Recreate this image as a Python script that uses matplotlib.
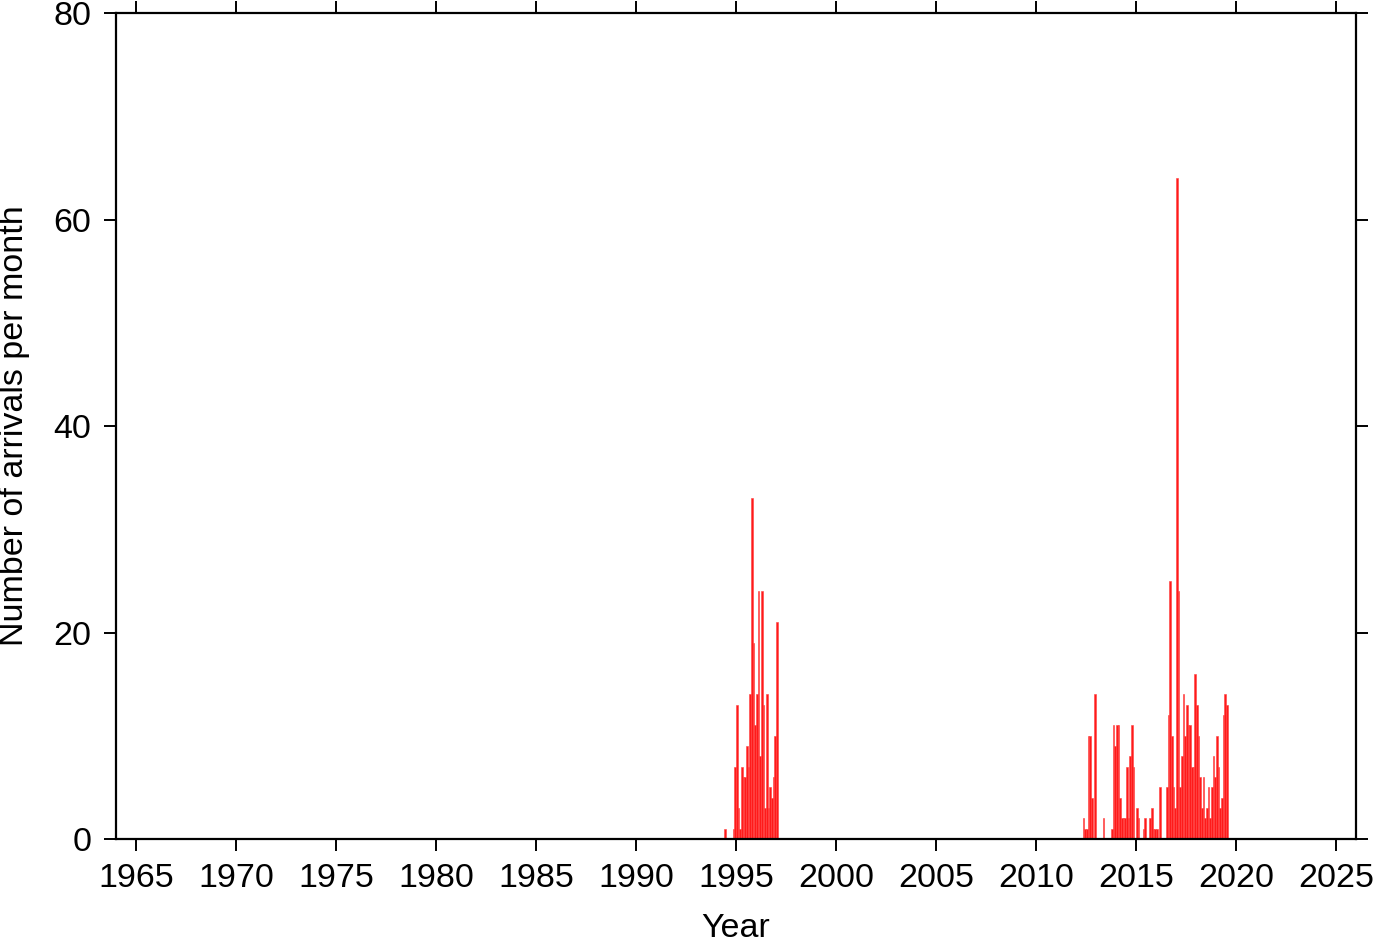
import matplotlib
matplotlib.use("Agg")
import matplotlib.pyplot as plt
import numpy as np

plt.rcParams['font.family'] = ['Liberation Sans', 'DejaVu Sans']

# Monthly arrival counts (nonzero months only)
months = [
    "1994-06",
    "1994-11", "1994-12", "1995-01", "1995-02", "1995-03", "1995-04", "1995-05",
    "1995-06", "1995-07", "1995-08", "1995-09", "1995-10", "1995-11", "1995-12",
    "1996-01", "1996-02", "1996-03", "1996-04", "1996-05", "1996-06", "1996-07",
    "1996-08", "1996-09", "1996-10", "1996-11", "1996-12", "1997-01",
    "2012-05", "2012-06", "2012-07", "2012-08", "2012-09", "2012-10", "2012-12",
    "2013-05", "2013-10", "2013-11", "2013-12",
    "2014-01", "2014-02", "2014-03", "2014-04", "2014-05", "2014-06", "2014-07",
    "2014-08", "2014-09", "2014-10", "2014-11",
    "2015-01", "2015-02", "2015-05", "2015-06", "2015-09", "2015-10", "2015-11",
    "2015-12",
    "2016-01", "2016-03", "2016-07", "2016-08", "2016-09", "2016-10", "2016-11",
    "2016-12",
    "2017-01", "2017-02", "2017-03", "2017-04", "2017-05", "2017-06", "2017-07",
    "2017-08", "2017-09", "2017-10", "2017-11", "2017-12",
    "2018-01", "2018-02", "2018-03", "2018-04", "2018-05", "2018-06", "2018-07",
    "2018-08", "2018-09", "2018-10", "2018-11", "2018-12",
    "2019-01", "2019-02", "2019-03", "2019-04", "2019-05", "2019-06", "2019-07",
]
counts = [
    1,
    1, 7, 13, 3, 1, 7, 6,
    6, 9, 7, 14, 33, 19, 11,
    14, 24, 8, 24, 13, 3, 14,
    3, 5, 4, 6, 10, 21,
    2, 1, 1, 10, 10, 4, 14,
    2, 1, 11, 9,
    11, 11, 4, 2, 2, 2, 7,
    2, 8, 11, 7,
    3, 2, 1, 2, 2, 3, 1,
    1,
    1, 5, 5, 12, 25, 10, 5,
    3,
    64, 24, 5, 8, 14, 10, 13,
    11, 11, 7, 7, 16,
    13, 10, 6, 3, 6, 2, 3,
    5, 2, 5, 8, 6,
    10, 7, 3, 4, 12, 14, 13,
]

x_ticks = [1965, 1970, 1975, 1980, 1985, 1990, 1995, 2000, 2005, 2010, 2015, 2020, 2025]
y_ticks = [0, 20, 40, 60, 80]

years = np.array([int(m[:4]) + (int(m[5:]) - 1) / 12.0 for m in months])

fig = plt.figure(figsize=(13.82, 9.42), dpi=100)
ax = fig.add_axes([0.0839, 0.1093, 0.9812 - 0.0839, 0.9862 - 0.1093])

ax.bar(years, counts, width=1 / 12.0, align='edge', color='#ff1a1a',
       edgecolor='#ff4040', linewidth=0.4)

ax.set_xlim(1964, 2026)
ax.set_ylim(0, 80)
ax.set_xticks(x_ticks)
ax.set_yticks(y_ticks)
ax.tick_params(direction='out', length=8.6, width=1.4, labelsize=24.5, pad=9,
               top=True, right=True, labeltop=False, labelright=False)
for s in ax.spines.values():
    s.set_linewidth(1.6)

ax.set_xlabel("Year", fontsize=24.5, labelpad=13)
ax.set_ylabel("Number of arrivals per month", fontsize=24.5, labelpad=17)

fig.savefig("out.png", dpi=100)
